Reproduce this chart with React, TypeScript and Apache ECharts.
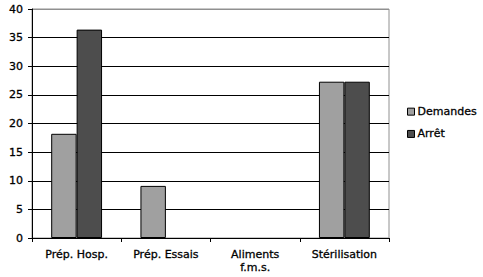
import React, { useEffect, useRef } from "react";
import * as echarts from "echarts";

const categories = ["Prép. Hosp.", "Prép. Essais", "Aliments\nf.m.s.", "Stérilisation"];
const demandes = [18.2, 9.1, 0, 27.3];
const arret = [36.4, 0, 0, 27.3];
const yTicks = { min: 0, max: 40, interval: 5 };

const toItems = (arr: number[]) =>
  arr.map((v) => (v === 0 ? { value: v, itemStyle: { borderWidth: 0 } } : v));

export default function App() {
  const ref = useRef<HTMLDivElement>(null);
  useEffect(() => {
    const chart = echarts.init(ref.current!, undefined, { renderer: "svg" });
    const font = "DejaVu Sans";
    const txt = { fontFamily: font, fontSize: 11, fontWeight: "normal", color: "#000", textBorderColor: "#000", textBorderWidth: 0.3 };
    chart.setOption({
      animation: false,
      backgroundColor: "#fff",
      textStyle: { fontFamily: font },
      grid: {
        left: 32, right: 94, top: 9, bottom: 39,
        show: true, borderColor: "#909090", borderWidth: 1, backgroundColor: "transparent",
      },
      legend: {
        orient: "vertical",
        left: 402, top: 101,
        itemWidth: 7, itemHeight: 7, itemGap: 11,
        icon: "rect",
        itemStyle: { borderColor: "#000", borderWidth: 1 },
        textStyle: { ...txt, padding: [0, 0, 0, -2] },
        data: ["Demandes", "Arrêt"],
      },
      xAxis: {
        type: "category",
        data: categories,
        axisLine: { lineStyle: { color: "#000" } },
        axisTick: { show: true, length: 4, alignWithLabel: false, lineStyle: { color: "#000" } },
        axisLabel: { ...txt, margin: 10, lineHeight: 13, interval: 0 },
      },
      yAxis: {
        type: "value",
        min: yTicks.min, max: yTicks.max, interval: yTicks.interval,
        axisLine: { show: true, lineStyle: { color: "#000" } },
        axisTick: { show: true, length: 4, lineStyle: { color: "#000" } },
        axisLabel: { ...txt, margin: 9 },
        splitLine: {
          lineStyle: {
            color: ["#000", "#000", "#000", "#000", "#000", "#000", "#000", "#000", "#909090"],
            width: 1,
          },
        },
      },
      series: [
        {
          name: "Demandes", type: "bar", data: toItems(demandes),
          barGap: "0%", barCategoryGap: "43%",
          itemStyle: { color: "#a0a0a0", borderColor: "#000", borderWidth: 1 },
        },
        {
          name: "Arrêt", type: "bar", data: toItems(arret),
          itemStyle: { color: "#4d4d4d", borderColor: "#000", borderWidth: 1 },
        },
      ],
    });
    return () => chart.dispose();
  }, []);
  return <div ref={ref} style={{ width: 483, height: 277, position: "absolute", left: 0, top: 0 }} />;
}
